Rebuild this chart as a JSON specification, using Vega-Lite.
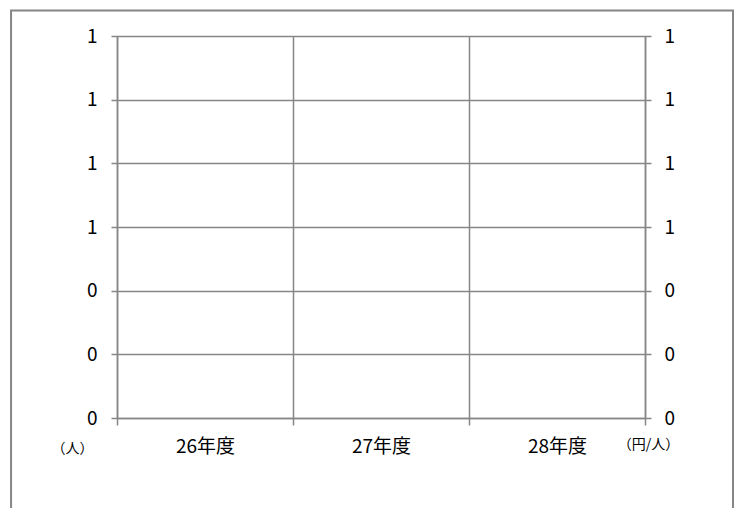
{
  "$schema": "https://vega.github.io/schema/vega-lite/v6.json",
  "width": 528,
  "height": 382,
  "autosize": {"type": "none"},
  "padding": {"left": 117, "top": 36, "right": 98, "bottom": 90},
  "background": "white",
  "config": {"view": {"stroke": null}, "font": "Noto Sans CJK JP"},
  "data": {"values": [
    {"fy": 26, "members": null, "cost": null},
    {"fy": 27, "members": null, "cost": null},
    {"fy": 28, "members": null, "cost": null}
  ]},
  "layer": [
    {
      "mark": "bar",
      "encoding": {
        "x": {
          "field": "fy", "type": "quantitative",
          "scale": {"domain": [26, 29], "nice": false, "zero": false, "padding": 0},
          "axis": {
            "values": [26, 27, 28, 29],
            "labelExpr": "datum.value < 29 ? datum.value + '年度' : ''",
            "labelOffset": 88, "labelFlush": false, "labelOverlap": false, "labelBound": false,
            "grid": true, "gridColor": "#868686", "gridWidth": 1.5,
            "domainColor": "#868686", "domainWidth": 1.5,
            "tickColor": "#868686", "tickWidth": 1.5, "tickSize": 7,
            "labelFontSize": 19, "labelColor": "#000000", "labelPadding": 12,
            "title": null
          }
        },
        "y": {
          "field": "members", "type": "quantitative",
          "scale": {"domain": [0, 1.2], "nice": false},
          "axis": {
            "orient": "left", "values": [0, 0.2, 0.4, 0.6, 0.8, 1, 1.2], "format": ".0f",
            "grid": true, "gridColor": "#868686", "gridWidth": 1.5,
            "domainColor": "#868686", "domainWidth": 1.5,
            "tickColor": "#868686", "tickWidth": 1.5, "tickSize": 6,
            "labelFontSize": 19, "labelColor": "#000000", "labelPadding": 14,
            "title": "（人）", "titleAngle": 0, "titleX": -45, "titleY": 412,
            "titleAlign": "center", "titleBaseline": "middle",
            "titleFontSize": 14, "titleFontWeight": "normal", "titleColor": "#000000"
          }
        }
      }
    },
    {
      "mark": "line",
      "encoding": {
        "x": {"field": "fy", "type": "quantitative"},
        "y": {
          "field": "cost", "type": "quantitative",
          "scale": {"domain": [0, 1.2], "nice": false},
          "axis": {
            "orient": "right", "values": [0, 0.2, 0.4, 0.6, 0.8, 1, 1.2], "format": ".0f",
            "grid": false,
            "domainColor": "#868686", "domainWidth": 1.5,
            "tickColor": "#868686", "tickWidth": 1.5, "tickSize": 6,
            "labelFontSize": 19, "labelColor": "#000000", "labelPadding": 13,
            "title": "（円/人）", "titleAngle": 0, "titleX": 3, "titleY": 408,
            "titleAlign": "center", "titleBaseline": "middle",
            "titleFontSize": 14, "titleFontWeight": "normal", "titleColor": "#000000"
          }
        }
      }
    },
    {
      "data": {"values": [{"frame": 1}]},
      "mark": {"type": "rect", "fill": "white", "fillOpacity": 0, "stroke": "#868686", "strokeWidth": 2, "clip": false},
      "encoding": {
        "x": {"datum": 25.398, "type": "quantitative"},
        "x2": {"datum": 29.5},
        "y": {"datum": 1.2801, "type": "quantitative", "scale": {"domain": [0, 1.2], "nice": false}, "axis": null},
        "y2": {"datum": -0.4}
      }
    }
  ],
  "resolve": {"scale": {"y": "independent"}}
}
